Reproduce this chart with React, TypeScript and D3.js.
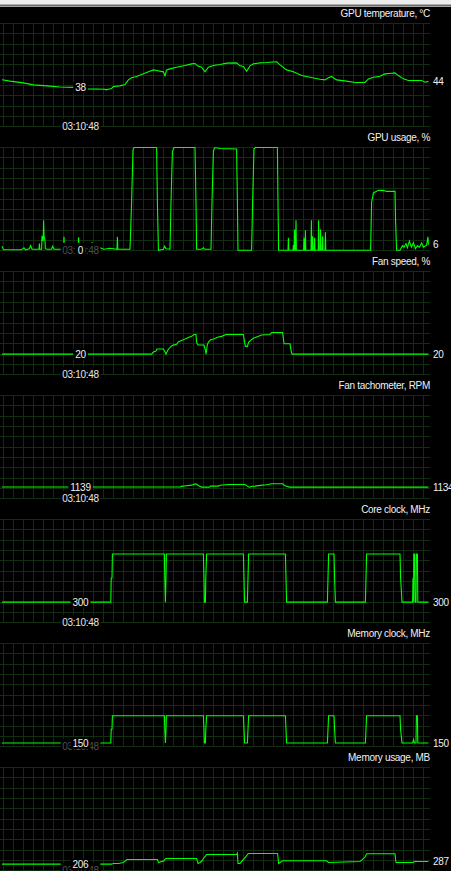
import React from 'react';
import * as d3 from 'd3';

// Hardware monitor: seven stacked history graphs sharing one time axis.
const W = 451;
const H = 871;
const GRID_RIGHT = 430;
const PANEL_TOP0 = 23.5;
const PANEL_STEP = 124;
const PANEL_H = 103.3;
const ROWS = 10;
const COL_STEP = 10;
const FONT = '"Liberation Sans", Arial, sans-serif';
const FONT_SIZE = 10;
const LETTER = -0.3;

const TIME_DOMAIN: [number, number] = [0, 214];
const CURSOR_T = 40.25;
const CURSOR_LABEL = '03:10:48';

const titles = [
  'GPU temperature, °C',
  'GPU usage, %',
  'Fan speed, %',
  'Fan tachometer, RPM',
  'Core clock, MHz',
  'Memory clock, MHz',
  'Memory usage, MB',
];

const yMaxes = [100, 100, 100, 10000, 1500, 4000, 3200];

type Pt = [number, number]; // [seconds, value]

const gpuTemperature: Pt[] = [
  [1, 45.5], [5, 44.2], [11.7, 42.5], [16.7, 40.6], [23.3, 39.6], [30, 38.6], [36.7, 38.2],
  [40.25, 38], [43.7, 36.7], [52.5, 36.4], [53, 35.8], [55.8, 37.1], [56.7, 39], [60, 39.6],
  [62.5, 40.9], [64.2, 45.4], [65.8, 47.4], [68.3, 48.7], [70.8, 50.6], [74.2, 53.2],
  [76.7, 55.1], [78.3, 54.5], [81.7, 53.2], [82.5, 49.3], [83.3, 55.1], [85, 56.1],
  [88.3, 57.7], [92.5, 59.3], [95.8, 60.9], [97.5, 61.3], [98.7, 59], [100.8, 57.7],
  [102.5, 53.2], [104.2, 57.7], [106.7, 59.3], [110, 60.3], [113.3, 61.6], [118.3, 61.9],
  [120, 59], [121.7, 58.4], [123.3, 53.8], [125, 59], [126.7, 60.9], [130, 61.9],
  [133.3, 62.2], [138.3, 62.9], [140, 60], [143.3, 55.1], [146.7, 53.2], [150.8, 49.6],
  [155, 48], [160, 46.1], [162.5, 45.4], [164.2, 47.4], [165.8, 48.7], [166.7, 47.4],
  [168.3, 45.4], [173.3, 44.2], [177.5, 42.9], [182.5, 42.9], [184.2, 46.4], [186.7, 48],
  [190, 48.9], [192.5, 51.2], [195.8, 51.9], [197.5, 52.2], [199.2, 49.6], [201.7, 46.4],
  [204.2, 44.8], [208.3, 44.8], [210.8, 44.8], [212.5, 43.2], [214.2, 44],
];

const gpuUsage: Pt[] = [
  [1, 4.5], [1.7, 1], [10.8, 1], [12, 3], [12.7, 1], [14.7, 2], [15.3, 5], [16, 1.5],
  [18.7, 1.5], [19.5, 1.5], [19.7, 7], [19.9, 1.5], [20.8, 1.5], [21, 14.5], [21.2, 10],
  [21.6, 10], [21.8, 29.5], [22, 14.5], [22.5, 10], [22.7, 2], [23.7, 1.5], [25.8, 1.5],
  [26.3, 4.5], [27, 1.5], [31.8, 1.5], [32, 13.5], [32.2, 1.5], [39.1, 1.5], [39.3, 13],
  [39.5, 1.5], [40.25, 0], [40.7, 1.5], [45.8, 1.5], [46, 8.5], [46.2, 1.5], [50, 3],
  [52, 1.5], [55, 2.5], [58.5, 1.5], [58.7, 13.5], [58.9, 1.5], [65, 1.5],
  [65.8, 47], [66.5, 98], [67, 100], [78.3, 100], [78.7, 47], [79.2, 0.5], [81.7, 1.5],
  [82.3, 4.5], [83, 2], [85, 1.5], [85.5, 47], [86.2, 96], [87, 100], [97.5, 100],
  [98, 47], [98.3, 1.5], [100.8, 1.5], [101.7, 3], [102.3, 1.5], [105.5, 1.5], [106, 47],
  [106.7, 97], [107.5, 100], [110, 99], [118.3, 98.5], [118.7, 47], [119, 0.5],
  [125.8, 0.5], [126.3, 47], [127, 98.5], [127.7, 100], [138.7, 100], [139, 47],
  [139.3, 0.5], [144, 0.5], [144.2, 12.7], [144.4, 0.5], [146.5, 0.5], [146.7, 5.5],
  [146.9, 0.5], [147.1, 0.5], [147.3, 20.5], [147.5, 0.5], [147.8, 0.5], [148, 29.5],
  [148.2, 0.5], [151.8, 0.5], [152, 12.7], [152.2, 0.5], [152.5, 0.5], [152.7, 19.8],
  [152.9, 0.5], [155.5, 0.5], [155.7, 29.5], [155.9, 0.5], [156.1, 0.5], [156.3, 14],
  [156.5, 0.5], [157.1, 0.5], [157.3, 12.7], [157.5, 0.5], [159.1, 0.5], [159.3, 29.5],
  [159.5, 0.5], [160.1, 0.5], [160.3, 20.5], [160.5, 0.5], [161.1, 0.5], [161.3, 14],
  [161.5, 0.5], [162.5, 0.5], [162.7, 17.9], [162.9, 0.5], [185.3, 0.5], [185.8, 47],
  [186.7, 56], [189.2, 58.5], [191.7, 58.5], [193.3, 57.5], [197.5, 57.5], [197.8, 28],
  [198.3, 0.5], [200, 0.5], [201.2, 5], [202, 3.5], [203, 7], [203.7, 3], [204.7, 9.5],
  [205.7, 3.5], [206.7, 8], [207.7, 2], [208.7, 5], [209.7, 3.5], [210.8, 7.5],
  [211.7, 3.5], [213.3, 5.5], [214, 13.5], [214.2, 6],
];

const fanSpeed: Pt[] = [
  [1, 20], [40.25, 20], [75.8, 20], [76.7, 22], [78, 23], [78.5, 25], [81.7, 25], [82.3, 23],
  [83, 20], [83.7, 23], [84.3, 25], [85.3, 27], [86.3, 28.5], [88.3, 29.5], [89.2, 32],
  [90.8, 33.3], [92.5, 34.6], [94.2, 36], [95.8, 37.2], [97, 39], [98, 39], [98.3, 31.4],
  [99, 28.8], [102, 28.8], [102.7, 24], [103, 20], [103.3, 24], [103.7, 29.4], [104.3, 32],
  [105.3, 34], [106.7, 34.6], [109.2, 36.6], [110.8, 37.2], [113, 39], [121.7, 39],
  [122.3, 31.4], [122.7, 27.5], [123.7, 27.5], [124.3, 31.4], [125.3, 33.3], [126.7, 35.3],
  [128.3, 36.6], [130.8, 38.5], [135, 39], [135.8, 41], [141.3, 41], [142, 30], [145, 30],
  [145.7, 22], [146, 20], [214.2, 20],
];

const fanTachometer: Pt[] = [
  [1, 1139], [40.25, 1139], [90, 1139], [90.8, 1200], [93.3, 1260], [95.8, 1320],
  [97.2, 1420], [98.3, 1420], [99.3, 1260], [100.8, 1134], [104.7, 1134], [105.3, 1230],
  [109.2, 1230], [110, 1320], [114.2, 1390], [122.5, 1390], [123.7, 1230], [124.7, 1100],
  [125.3, 1190], [127.5, 1230], [131.3, 1320], [133.3, 1360], [135.8, 1450], [141.3, 1450],
  [142.5, 1260], [144.7, 1134], [214.2, 1134],
];

const coreClock: Pt[] = [
  [1, 300], [40.25, 300], [55.4, 300], [55.6, 650], [56, 650], [56.2, 1000],
  [82.2, 1000], [82.4, 650], [82.7, 300], [83, 650], [83.2, 1000],
  [101.7, 1000], [102, 650], [102.2, 300], [102.7, 300], [102.9, 650], [103.3, 1000],
  [121.7, 1000], [122, 650], [122.3, 300], [123.7, 300], [124, 650], [124.3, 1000],
  [142.7, 1000], [143, 650], [143.3, 300],
  [163.7, 300], [164, 650], [164.3, 1000], [167, 1000], [167.3, 650], [167.7, 300],
  [182.7, 300], [183, 650], [183.3, 1000], [200, 1000], [200.3, 650], [201, 300],
  [206.3, 300], [206.5, 650], [206.7, 300], [206.9, 1000], [207.3, 1000], [207.5, 300],
  [208, 300], [208.2, 1000], [208.7, 1000], [208.9, 300], [214.2, 300],
];

const memoryClock: Pt[] = [
  [1, 150], [40.25, 150], [55.4, 150], [55.6, 675], [56, 675], [56.2, 1200],
  [82.2, 1200], [82.4, 675], [82.7, 150], [83, 675], [83.2, 1200],
  [101.7, 1200], [102, 675], [102.2, 150], [102.7, 150], [102.9, 675], [103.3, 1200],
  [121.7, 1200], [122, 675], [122.3, 150], [123.7, 150], [124, 675], [124.3, 1200],
  [142.7, 1200], [143, 675], [143.3, 150],
  [163.7, 150], [164, 675], [164.3, 1200], [167, 1200], [167.3, 675], [167.7, 150],
  [182.7, 150], [183, 675], [183.3, 1200], [200, 1200], [200.3, 675], [201, 150],
  [206.3, 150], [206.8, 280], [207.2, 150], [208, 150], [208.2, 1200], [208.7, 1200],
  [208.9, 150], [214.2, 150],
];

const memoryUsage: Pt[] = [
  [1, 206], [40.25, 206], [55.8, 206], [56.7, 227], [59.2, 227], [61.7, 258], [63, 320],
  [63.3, 351], [78.7, 351], [79.3, 248], [80.3, 279], [81.7, 299], [82.8, 372], [83.3, 382],
  [98.3, 382], [99, 227], [100, 258], [101, 310], [102, 403], [103.3, 506], [118.3, 506],
  [118.7, 547], [119, 227], [120, 227], [121.7, 351], [122.7, 423], [124.2, 537],
  [138.8, 537], [139.3, 227], [140, 258], [141.3, 310], [163.3, 310], [164.3, 258],
  [180, 289], [180.8, 330], [182.5, 423], [183.3, 526], [197.5, 526], [198, 258],
  [206.7, 258], [207, 287], [214.2, 287],
];

const seriesList: Pt[][] = [
  gpuTemperature, gpuUsage, fanSpeed, fanTachometer, coreClock, memoryClock, memoryUsage,
];

let measureCtx: CanvasRenderingContext2D | null = null;
function textWidth(s: string): number {
  if (!measureCtx) measureCtx = document.createElement('canvas').getContext('2d');
  if (!measureCtx) return s.length * 5.3;
  measureCtx.font = `${FONT_SIZE}px ${FONT}`;
  return measureCtx.measureText(s).width + LETTER * s.length;
}

const fmt = (v: number) => String(Math.round(v));

function Panel({ index }: { index: number }) {
  const top = PANEL_TOP0 + index * PANEL_STEP;
  const bottom = top + PANEL_H;
  const data = seriesList[index];
  const x = d3.scaleLinear().domain(TIME_DOMAIN).range([0, 428]);
  const y = d3.scaleLinear().domain([0, yMaxes[index]]).range([bottom, top]);
  const line = d3.line<Pt>().x((d) => x(d[0])).y((d) => y(d[1]));

  const rows = d3.range(ROWS + 1).map((k) => Math.round(top - 0.5 + (k * PANEL_H) / ROWS) + 0.5);
  const cols = d3.range(3.5, GRID_RIGHT - 5, COL_STEP);

  const cursorPt = data.find((d) => d[0] === CURSOR_T) as Pt;
  const lastPt = data[data.length - 1];
  const cx = x(CURSOR_T);
  const cy = y(cursorPt[1]);
  const cursorText = fmt(cursorPt[1]);
  const cw = textWidth(cursorText);
  const vBox = { x0: cx - cw / 2 - 2, x1: cx + cw / 2 + 2, y0: cy - 5.5, y1: cy + 5.5 };

  const tBase = bottom + 3;
  const tw = textWidth(CURSOR_LABEL);
  const tBox = { x0: cx - tw / 2 - 1.5, x1: cx + tw / 2 + 1.5, y0: tBase - 11, y1: tBase + 3 };
  const overlaps =
    vBox.x0 < tBox.x1 && vBox.x1 > tBox.x0 && vBox.y1 > tBase - 7 && vBox.y0 < tBase;

  const textProps = {
    fontFamily: FONT,
    fontSize: FONT_SIZE,
    letterSpacing: LETTER,
  };

  return (
    <g>
      <g stroke="#112e11" strokeWidth={1} shapeRendering="crispEdges">
        {rows.map((ry, i) => (
          <line key={`r${i}`} x1={0} x2={GRID_RIGHT} y1={ry} y2={ry} />
        ))}
        {cols.map((c, i) => (
          <line key={`c${i}`} x1={c} x2={c} y1={rows[0]} y2={rows[ROWS]} />
        ))}
      </g>
      <path d={line(data) || ''} fill="none" stroke="#00ff00" strokeWidth={1.1} />
      <rect x={tBox.x0} y={tBox.y0} width={tBox.x1 - tBox.x0} height={tBox.y1 - tBox.y0} fill="#000" />
      <text {...textProps} x={cx} y={tBase} textAnchor="middle" fill={overlaps ? '#505050' : '#e8e8e8'}>
        {CURSOR_LABEL}
      </text>
      <rect x={vBox.x0} y={vBox.y0} width={vBox.x1 - vBox.x0} height={vBox.y1 - vBox.y0} fill="#000" />
      <text {...textProps} x={cx} y={cy + 3.6} textAnchor="middle" fill="#f0f0f0">
        {cursorText}
      </text>
      <text {...textProps} x={433} y={y(lastPt[1]) + 3.6} fill="#f0f0f0">
        {fmt(lastPt[1])}
      </text>
      <text {...textProps} x={GRID_RIGHT} y={top - 7} textAnchor="end" fill="#f0f0f0">
        {titles[index]}
      </text>
    </g>
  );
}

export default function App() {
  return (
    <svg
      width={W}
      height={H}
      viewBox={`0 0 ${W} ${H}`}
      style={{ position: 'absolute', left: 0, top: 0, display: 'block' }}
    >
      <rect x={0} y={0} width={W} height={H} fill="#000" />
      <rect x={0} y={0} width={W} height={6.7} fill="#ececec" />
      <line x1={0} x2={W} y1={5.2} y2={5.2} stroke="#2a2a2a" strokeWidth={1} />
      {titles.map((_, i) => (
        <Panel key={i} index={i} />
      ))}
    </svg>
  );
}
